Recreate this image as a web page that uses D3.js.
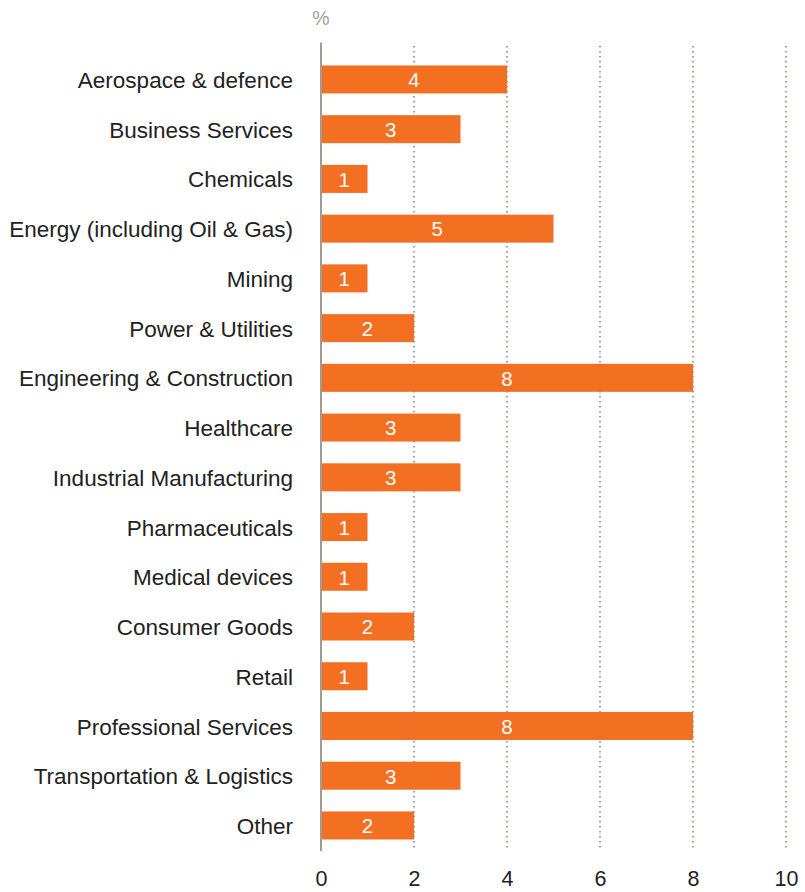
<!DOCTYPE html>
<html>
<head>
<meta charset="utf-8">
<script src="https://cdn.jsdelivr.net/npm/d3@7"></script>
<style>
  html, body { margin: 0; padding: 0; background: #fff; }
  svg { display: block; font-family: "Liberation Sans", Arial, Helvetica, sans-serif; }
</style>
</head>
<body>
<svg id="chart" width="805" height="892"></svg>
<script>
// Share of respondents by sector (%)
const categories = [
  "Aerospace & defence",
  "Business Services",
  "Chemicals",
  "Energy (including Oil & Gas)",
  "Mining",
  "Power & Utilities",
  "Engineering & Construction",
  "Healthcare",
  "Industrial Manufacturing",
  "Pharmaceuticals",
  "Medical devices",
  "Consumer Goods",
  "Retail",
  "Professional Services",
  "Transportation & Logistics",
  "Other"
];
const values = [4, 3, 1, 5, 1, 2, 8, 3, 3, 1, 1, 2, 1, 8, 3, 2];
const xTicks = [0, 2, 4, 6, 8, 10];
const unitLabel = "%";

const svg = d3.select("#chart");
const plotLeft = 321, plotRight = 786;
const plotTop = 55.5, plotBottom = 849.4;

const x = d3.scaleLinear().domain([0, 10]).range([plotLeft, plotRight]);
const y = d3.scaleBand()
  .domain(categories)
  .range([plotTop, plotBottom])
  .paddingInner(0.437)
  .paddingOuter(0.2);

const barColor = "#f36f21";
const axisColor = "#a59a90";

// dotted vertical gridlines
svg.append("g")
  .selectAll("line")
  .data(xTicks.filter(d => d > 0))
  .join("line")
  .attr("x1", d => x(d)).attr("x2", d => x(d))
  .attr("y1", 46).attr("y2", 851)
  .attr("stroke", "#a89e96")
  .attr("stroke-width", 2)
  .attr("stroke-dasharray", "1.6,3.4");

// bars
svg.append("g")
  .selectAll("rect")
  .data(values)
  .join("rect")
  .attr("x", x(0))
  .attr("y", (d, i) => y(categories[i]))
  .attr("width", d => x(d) - x(0))
  .attr("height", y.bandwidth())
  .attr("fill", barColor);

// value labels
svg.append("g")
  .selectAll("text")
  .data(values)
  .join("text")
  .attr("x", d => (x(d) + x(0)) / 2)
  .attr("y", (d, i) => y(categories[i]) + y.bandwidth() / 2)
  .attr("dy", "0.38em")
  .attr("text-anchor", "middle")
  .attr("fill", "#fff")
  .attr("font-size", 20.5)
  .text(d => d);

// category labels
svg.append("g")
  .selectAll("text")
  .data(categories)
  .join("text")
  .attr("x", 293)
  .attr("y", d => y(d) + y.bandwidth() / 2)
  .attr("dy", "0.38em")
  .attr("text-anchor", "end")
  .attr("fill", "#222")
  .attr("font-size", 22.5)
  .text(d => d);

// zero axis line
svg.append("line")
  .attr("x1", x(0)).attr("x2", x(0))
  .attr("y1", 42.5).attr("y2", 851)
  .attr("stroke", axisColor)
  .attr("stroke-width", 2);

// x tick labels
const xAxis = d3.axisBottom(x).tickValues(xTicks).tickSize(0).tickPadding(0);
const gx = svg.append("g")
  .attr("transform", "translate(0,886)")
  .call(xAxis);
gx.select(".domain").remove();
gx.selectAll("text")
  .attr("dy", null)
  .attr("font-size", 21.5)
  .attr("font-family", "'Liberation Sans', Arial, sans-serif")
  .attr("fill", "#222");

// unit label
svg.append("text")
  .attr("x", x(0))
  .attr("y", 25)
  .attr("text-anchor", "middle")
  .attr("fill", "#aaa096")
  .attr("font-size", 19.5)
  .text(unitLabel);
</script>
</body>
</html>
